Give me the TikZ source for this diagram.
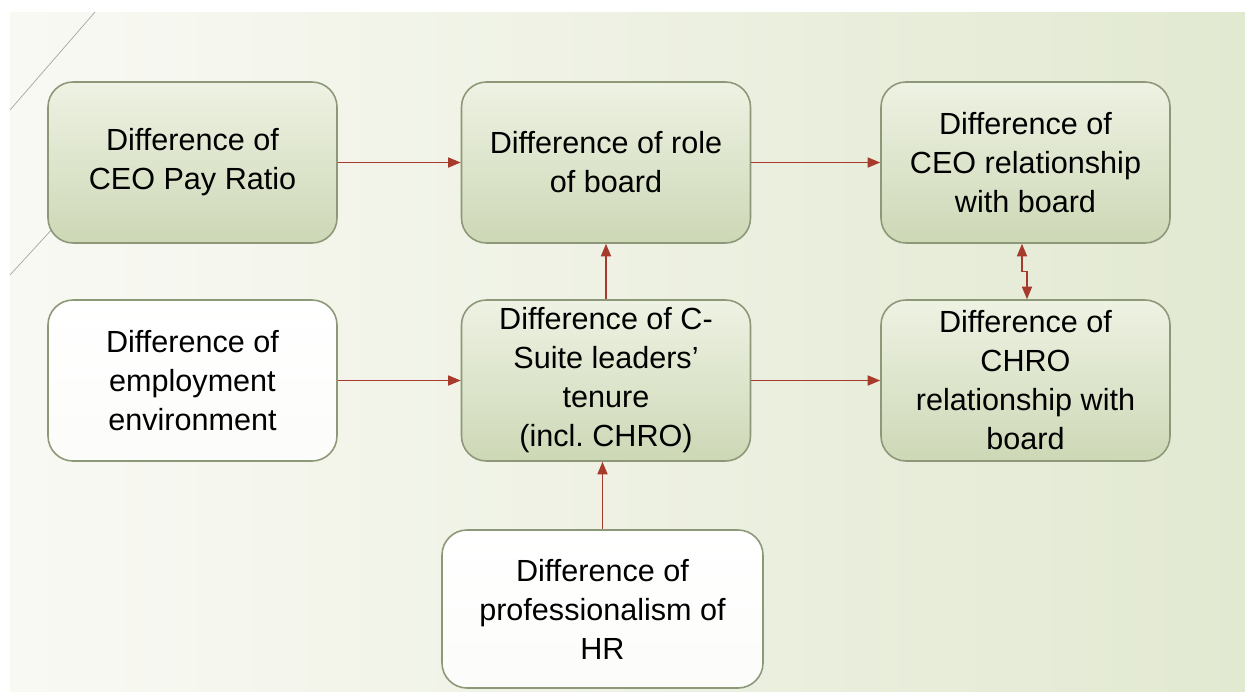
\documentclass[tikz,border=0pt]{standalone}
\usepackage{fontspec}
\setmainfont{Liberation Sans}
\usetikzlibrary{arrows.meta}
\frenchspacing

\definecolor{slideleft}{HTML}{F9F9F4}
\definecolor{slideright}{HTML}{E2E9D1}
\definecolor{boxtop}{HTML}{EEF2E3}
\definecolor{boxbottom}{HTML}{CDD8B6}
\definecolor{boxline}{HTML}{8C9878}
\definecolor{arrowred}{HTML}{A63A2B}

\begin{document}
\begin{tikzpicture}[
  factor/.style={rounded corners=0.5cm, draw=boxline, line width=0.9pt,
    minimum width=5.78cm, minimum height=3.22cm, align=center,
    font=\fontsize{17.4}{22.2}\selectfont},
  greenbox/.style={factor, top color=boxtop, bottom color=boxbottom},
  whitebox/.style={factor, top color=white, bottom color=white!93!boxbottom},
  link/.style={draw=arrowred, line width=0.9pt,
    arrows={-Triangle[length=0.25cm,width=0.2cm]}}
]

\useasboundingbox (0,0) rectangle (24.9,-13.82);

% Slide
\fill[white] (0,0) rectangle (24.9,-13.82);
\shade[left color=slideleft, right color=slideright]
  (0.2,-0.24) rectangle (24.9,-13.82);
\draw[gray!70, line width=0.4pt] (0.2,-2.2) -- (1.9,-0.24);
\draw[gray!70, line width=0.4pt] (0.2,-5.5) -- (1.3,-4.3);

% Boxes
\node[greenbox] (pay) at (3.85,-3.25)
{Difference of\\CEO Pay Ratio};
\node[greenbox] (role) at (12.12,-3.25)
{Difference of role\\of board};
\node[greenbox] (ceo) at (20.51,-3.25)
{Difference of\\CEO relationship\\with board};
\node[whitebox] (env) at (3.85,-7.61)
{Difference of\\employment\\environment};
\node[greenbox] (tenure) at (12.12,-7.61)
{Difference of C-\\Suite leaders’\\tenure\\(incl. CHRO)};
\node[greenbox] (chro) at (20.51,-7.61)
{Difference of\\CHRO\\relationship with\\board};
\node[whitebox, minimum width=6.42cm, minimum height=3.16cm] (hr) at (12.05,-12.18)
{Difference of\\professionalism of\\HR};

% Arrows
\draw[link] (pay) -- (role);
\draw[link] (role) -- (ceo);
\draw[link] (env) -- (tenure);
\draw[link] (tenure) -- (chro);
\draw[link] (tenure) -- (role);
\draw[link] (hr.north) -- (hr.north |- tenure.south);
\draw[link, arrows={Triangle[length=0.25cm,width=0.2cm]-Triangle[length=0.25cm,width=0.2cm]}]
  ([xshift=-0.07cm]ceo.south) -- ++(0,-0.55) -| ([xshift=0.03cm]chro.north);

\end{tikzpicture}
\end{document}
